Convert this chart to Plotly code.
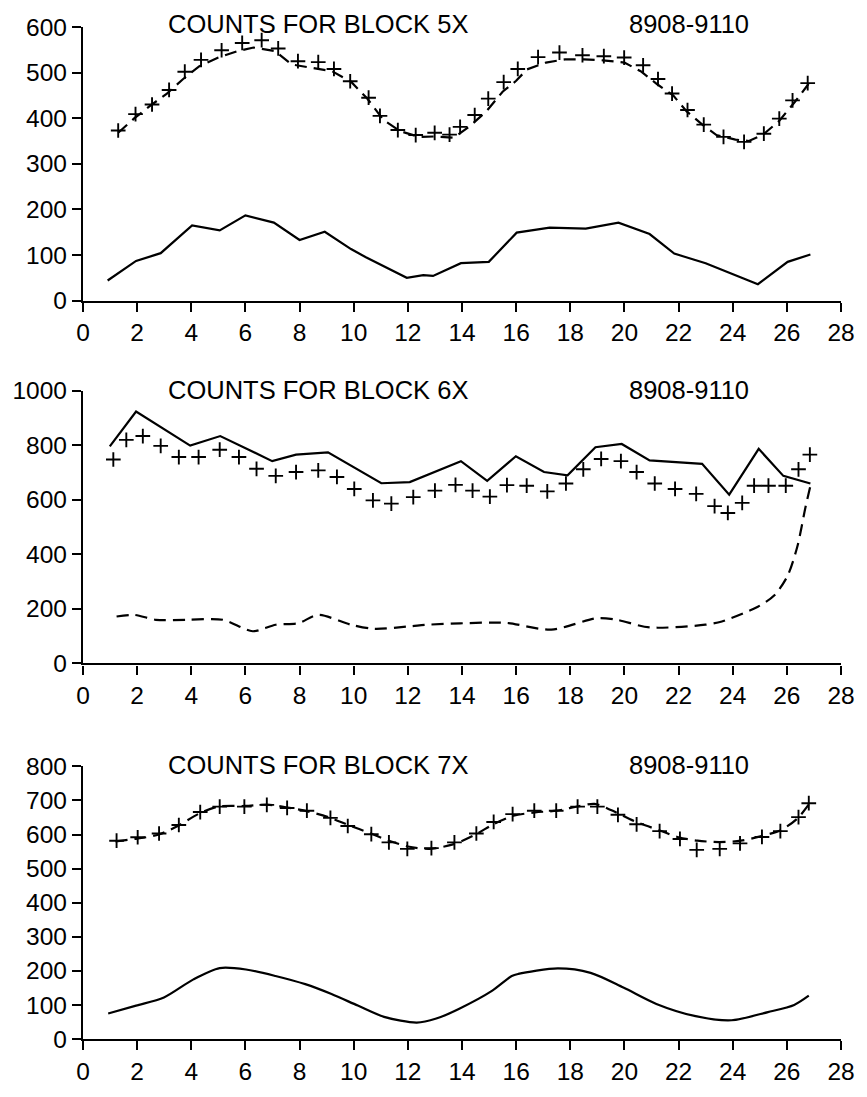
import plotly.graph_objects as go

# ---------------- Block 5X ----------------
b5_obs_x = [1.30, 1.94, 2.55, 3.18, 3.76, 4.36, 5.12, 5.88, 6.60, 7.21, 7.94, 8.69, 9.27, 9.87,
            10.55, 10.97, 11.63, 12.29, 12.99, 13.54, 13.93, 14.47, 14.97, 15.54, 16.06, 16.81,
            17.60, 18.45, 19.24, 19.99, 20.69, 21.24, 21.76, 22.33, 22.93, 23.66, 24.42, 25.15,
            25.72, 26.21, 26.77]
b5_obs_y = [373, 409, 430, 462, 502, 528, 549, 565, 571, 553, 525, 523, 508, 481,
            445, 405, 374, 363, 368, 364, 381, 407, 443, 479, 508, 534,
            544, 538, 536, 533, 516, 486, 454, 418, 386, 359, 348, 366,
            399, 439, 477]
b5_fit_x = [1.3, 1.9, 2.5, 3.1, 3.7, 4.3, 5.0, 5.7, 6.3, 7.1, 7.7, 8.3, 9.2, 9.9, 10.5, 11.1,
            11.7, 12.4, 13.0, 13.7, 14.3, 14.9, 15.5, 16.0, 16.4, 17.1, 17.8, 18.5, 19.2, 20.0,
            20.6, 21.2, 21.8, 22.3, 22.9, 23.4, 24.1, 24.6, 25.1, 25.7, 26.3, 26.8]
b5_fit_y = [368, 400, 428, 454, 486, 514, 533, 547, 555, 547, 518, 512, 503, 480, 443, 396,
            372, 359, 360, 357, 383, 415, 458, 482, 507, 522, 529, 529, 527, 522,
            503, 475, 450, 415, 385, 363, 353, 350, 363, 393, 436, 475]
b5_res_x = [0.91, 1.96, 2.87, 4.03, 5.05, 6.00, 7.05, 8.00, 8.93, 9.90, 10.45, 11.96, 12.57,
            12.93, 13.96, 14.99, 16.02, 17.24, 18.57, 19.78, 20.93, 21.84, 23.00, 24.93, 26.03, 26.87]
b5_res_y = [44, 87, 104, 165, 154, 187, 171, 133, 151, 113, 95, 50, 56,
            54, 82, 85, 149, 160, 158, 171, 146, 103, 82, 36, 85, 101]

# ---------------- Block 6X ----------------
b6_obs_x = [1.12, 1.60, 2.21, 2.87, 3.54, 4.27, 5.05, 5.76, 6.41, 7.12, 7.87, 8.69, 9.38, 10.02,
            10.71, 11.39, 12.20, 13.00, 13.76, 14.39, 15.03, 15.66, 16.39, 17.15, 17.84, 18.48,
            19.14, 19.87, 20.45, 21.12, 21.87, 22.65, 23.33, 23.82, 24.35, 24.79, 25.32, 25.96,
            26.43, 26.85]
b6_obs_y = [748, 820, 834, 798, 757, 757, 784, 757, 714, 688, 702, 708, 684, 640,
            598, 586, 610, 634, 655, 634, 612, 654, 652, 631, 660, 712,
            750, 742, 702, 660, 640, 622, 577, 552, 589, 652, 652, 652,
            712, 766]
b6_tot_x = [0.99, 1.96, 3.96, 5.07, 6.99, 7.87, 9.05, 11.02, 12.07, 13.96, 14.93, 15.99, 17.03,
            17.90, 18.93, 19.90, 20.93, 22.87, 23.87, 24.96, 25.87, 26.87]
b6_tot_y = [796, 924, 799, 834, 742, 766, 774, 661, 665, 742, 670, 760, 702,
            690, 793, 805, 745, 732, 619, 787, 688, 660]
b6_bkg_x = [1.24, 1.90, 2.69, 3.84, 5.17, 6.27, 7.12, 7.96, 8.69, 9.90, 10.75, 12.08, 12.75,
            15.12, 15.72, 17.30, 18.99, 19.72, 20.93, 22.99, 23.60, 24.93, 25.54, 26.03, 26.39,
            26.69, 26.90]
b6_bkg_y = [172, 178, 160, 160, 160, 118, 142, 148, 178, 142, 127, 136, 142,
            150, 148, 124, 166, 160, 132, 142, 154, 208, 250, 322, 430,
            574, 664]

# ---------------- Block 7X ----------------
b7_obs_x = [1.24, 2.02, 2.81, 3.54, 4.33, 5.05, 5.96, 6.79, 7.54, 8.27, 9.14, 9.78, 10.65, 11.30,
            11.98, 12.87, 13.72, 14.53, 15.17, 15.87, 16.67, 17.48, 18.27, 19.00, 19.76, 20.45,
            21.30, 22.05, 22.67, 23.52, 24.27, 25.08, 25.76, 26.43, 26.81]
b7_obs_y = [582, 592, 603, 628, 666, 682, 682, 687, 678, 670, 649, 625, 601, 577,
            558, 560, 577, 603, 637, 660, 670, 670, 682, 682, 658, 630,
            610, 587, 555, 558, 574, 593, 610, 651, 692]
b7_fit_x = [1.2, 2.0, 2.8, 3.5, 4.3, 5.0, 6.0, 6.8, 7.5, 8.3, 9.1, 9.8, 10.6, 11.3, 12.0, 12.8,
            13.7, 14.5, 15.2, 15.9, 16.7, 17.5, 18.3, 18.9, 19.5, 20.4, 21.3, 22.0, 22.7, 23.5,
            24.3, 25.1, 25.8, 26.4, 26.9]
b7_fit_y = [580, 588, 600, 625, 662, 682, 684, 688, 680, 668, 650, 628, 604, 582, 565, 558,
            572, 600, 632, 655, 665, 670, 683, 690, 672, 638, 612, 592, 582, 578,
            582, 596, 614, 648, 698]
b7_res_x = [0.93, 1.96, 2.99, 4.08, 5.05, 6.02, 7.11, 8.21, 9.18, 10.15, 11.12, 12.33, 13.05,
            13.90, 15.12, 15.84, 16.08, 17.54, 18.75, 19.96, 21.18, 22.63, 23.96, 25.30, 26.27, 26.81]
b7_res_y = [75, 98, 122, 175, 208, 204, 185, 161, 132, 98, 65, 48, 60,
            89, 142, 185, 191, 207, 194, 151, 103, 67, 55, 79, 100, 127]

titles = ["COUNTS FOR BLOCK 5X", "COUNTS FOR BLOCK 6X", "COUNTS FOR BLOCK 7X"]
period = "8908-9110"
y_ranges = [[0, 600], [0, 1000], [0, 800]]
y_dticks = [100, 200, 100]

FONT = "Liberation Sans, Arial, Helvetica, sans-serif"
LW = 2.2
DASH = "12px,7px"

fig = go.Figure()

def marker_trace(x, y, ax):
    return go.Scatter(x=x, y=y, mode="markers", xaxis=ax[0], yaxis=ax[1],
                      marker=dict(symbol="cross-thin", size=10.5, color="black",
                                  line=dict(color="black", width=1.9)),
                      showlegend=False, hoverinfo="skip")

def line_trace(x, y, ax, dash=None, shape="linear"):
    return go.Scatter(x=x, y=y, mode="lines", xaxis=ax[0], yaxis=ax[1],
                      line=dict(color="black", width=LW, dash=dash, shape=shape,
                                smoothing=0.8 if shape == "spline" else None),
                      showlegend=False, hoverinfo="skip")

ax1 = ("x", "y")
ax2 = ("x2", "y2")
ax3 = ("x3", "y3")

fig.add_trace(line_trace(b5_fit_x, b5_fit_y, ax1, dash=DASH))
fig.add_trace(marker_trace(b5_obs_x, b5_obs_y, ax1))
fig.add_trace(line_trace(b5_res_x, b5_res_y, ax1))

fig.add_trace(line_trace(b6_bkg_x, b6_bkg_y, ax2, dash=DASH, shape="spline"))
fig.add_trace(line_trace(b6_tot_x, b6_tot_y, ax2))
fig.add_trace(marker_trace(b6_obs_x, b6_obs_y, ax2))

fig.add_trace(line_trace(b7_fit_x, b7_fit_y, ax3, dash=DASH, shape="spline"))
fig.add_trace(marker_trace(b7_obs_x, b7_obs_y, ax3))
fig.add_trace(line_trace(b7_res_x, b7_res_y, ax3, shape="spline"))

H = 1097
T, B = 27, 38
plot_h = H - T - B
def dom(top_px, bot_px):
    return [(H - B - bot_px) / plot_h, (H - B - top_px) / plot_h]

domains = [dom(27, 306), dom(398, 676), dom(781, 1059)]

axis_common = dict(showline=True, linecolor="black", linewidth=2.4, ticks="outside",
                   ticklen=9, tickwidth=2.4, tickcolor="black", showgrid=False,
                   zeroline=False, tickfont=dict(family=FONT, size=24.5, color="black"))

layout = dict(width=867, height=H, margin=dict(l=81, r=16, t=T, b=B),
              paper_bgcolor="white", plot_bgcolor="white",
              font=dict(family=FONT, size=24, color="black"))

names = ["", "2", "3"]
for i, n in enumerate(names):
    layout["xaxis" + n] = dict(range=[0, 28], dtick=2, tick0=0, domain=[0, 1],
                               anchor="y" + n, **axis_common)
    layout["yaxis" + n] = dict(range=y_ranges[i], dtick=y_dticks[i], tick0=0,
                               domain=domains[i], anchor="x" + n, **axis_common)

fig.update_layout(**layout)

title_y = [1.011, 1.004, 1.005]
for i, n in enumerate(names):
    fig.add_annotation(text=titles[i], xref="x" + n, yref=("y" + n) + " domain",
                       x=3.05, y=title_y[i], xanchor="left", yanchor="middle",
                       showarrow=False, font=dict(family=FONT, size=25.5, color="black"))
    fig.add_annotation(text=period, xref="x" + n, yref=("y" + n) + " domain",
                       x=20.1, y=title_y[i], xanchor="left", yanchor="middle",
                       showarrow=False, font=dict(family=FONT, size=25.5, color="black"))

fig.write_html("out.html")
